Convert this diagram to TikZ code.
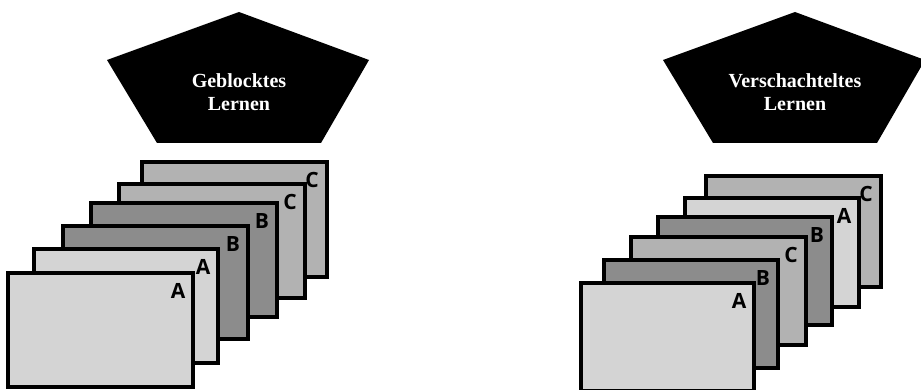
\documentclass[tikz,border=0pt]{standalone}
\usepackage{fontspec}
\setmainfont{Liberation Serif}
\newfontfamily\labelfont{Open Sans}
\definecolor{cardA}{RGB}{212,212,212}
\definecolor{cardB}{RGB}{140,140,140}
\definecolor{cardC}{RGB}{178,178,178}
\tikzset{
  card/.style={draw=black, line width=3.2pt, line join=miter},
  cardlabel/.style={font=\labelfont\bfseries\fontsize{21}{23}\selectfont, inner sep=0pt, anchor=center},
  penta/.style={fill=black, draw=none},
  pentatext/.style={text=white, font=\bfseries\fontsize{20}{23}\selectfont, align=center, inner sep=0pt}
}
\newcommand{\mycard}[7]{% name, x1, y1, x2, y2, colour, label
  \filldraw[card, fill=#6] (#2,#3) rectangle (#4,#5);
  \node[cardlabel] (#1) at ({#4-15},{#3+18}) {#7};
}
\newcommand{\mypenta}[3]{% name, cx, text
  \fill[penta] (#2,12) -- ({#2+130},60) -- ({#2+82},143) -- ({#2-82},143) -- ({#2-132},60) -- cycle;
  \node[pentatext] (#1) at (#2,92) {#3};
}
\begin{document}
\begin{tikzpicture}[x=1pt,y=-1pt]
\useasboundingbox (0,0) rectangle (921,390);
% left stack
\mycard{lc6}{142}{162}{327}{277}{cardC}{C}
\mycard{lc5}{119}{184}{305}{298}{cardC}{C}
\mycard{lc4}{91}{203}{277}{317}{cardB}{B}
\mycard{lc3}{63}{226}{248}{339}{cardB}{B}
\mycard{lc2}{34}{249}{218}{363}{cardA}{A}
\mycard{lc1}{8}{273}{193}{387}{cardA}{A}
% right stack
\mycard{rc6}{706}{176}{881}{287}{cardC}{C}
\mycard{rc5}{685}{198}{859}{307}{cardA}{A}
\mycard{rc4}{658}{217}{832}{325}{cardB}{B}
\mycard{rc3}{631}{237}{806}{345}{cardC}{C}
\mycard{rc2}{604}{260}{778}{368}{cardB}{B}
\mycard{rc1}{581}{283}{754}{391}{cardA}{A}
% pentagons
\mypenta{lp}{239}{Geblocktes\\Lernen}
\mypenta{rp}{795}{Verschachteltes\\Lernen}
\end{tikzpicture}
\end{document}
